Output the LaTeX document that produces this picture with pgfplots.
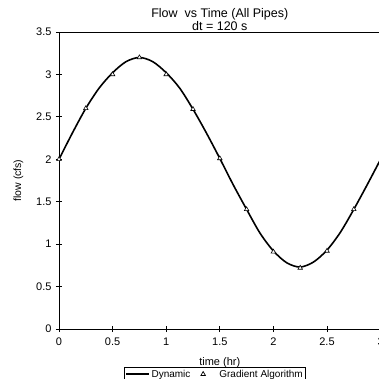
\documentclass[border=0pt]{standalone}
\usepackage{fontspec}
\setmainfont{Liberation Sans}
\usepackage{pgfplots}
\pgfplotsset{compat=1.18}
\begin{document}
\begin{tikzpicture}
\begin{axis}[
  scale only axis,
  width=321.6pt, height=297pt,
  at={(0,0)}, anchor=south west,
  xmin=0, xmax=3, ymin=0, ymax=3.5,
  xtick={0,0.5,1,1.5,2,2.5,3},
  ytick={0,0.5,1,1.5,2,2.5,3,3.5},
  xticklabels={0,0.5,1,1.5,2,2.5,3},
  yticklabels={0,0.5,1,1.5,2,2.5,3,3.5},
  xtick pos=left, ytick pos=left,
  tick align=center,
  major tick length=6pt,
  tick style={black, line width=0.8pt},
  axis line style={line width=0.9pt},
  ticklabel style={font=\fontsize{11}{12}\selectfont},
  /pgf/number format/assume math mode=true,
  xticklabel style={yshift=-2pt},
  yticklabel style={xshift=-1pt},
  title={Flow\ \ vs Time (All Pipes)\\dt = 120 s},
  title style={align=center, font=\fontsize{12.5}{10.5}\selectfont, at={(0.5,1)}, anchor=south, yshift=-8pt},
  xlabel={time (hr)},
  xlabel style={font=\fontsize{11}{12}\selectfont, yshift=-5pt},
  ylabel={flow (cfs)},
  ylabel style={font=\fontsize{10.5}{12}\selectfont, yshift=6pt},
  legend columns=2,
  legend style={at={(0.485,-0.128)}, anchor=north, draw=black, line width=0.5pt,
    font=\fontsize{10}{10}\selectfont, inner sep=0.5pt, row sep=0pt,
    /tikz/every even column/.append style={column sep=5pt}},
  legend cell align=left,
]
\addplot[black, line width=1.6pt, smooth, no marks,
  legend image code/.code={\draw[black, line width=1.6pt] (0cm,0cm) -- (0.8cm,0cm);}] coordinates {
  (0,2.00) (0.125,2.31) (0.25,2.60) (0.375,2.84) (0.5,3.02) (0.625,3.15)
  (0.75,3.20) (0.875,3.15) (1.0,3.02) (1.125,2.84) (1.25,2.59) (1.375,2.31)
  (1.5,2.01) (1.625,1.70) (1.75,1.41) (1.875,1.13) (2.0,0.92) (2.125,0.78)
  (2.25,0.73) (2.375,0.79) (2.5,0.93) (2.625,1.14) (2.75,1.41) (2.875,1.70)
  (3.0,2.00)};
\addlegendentry{Dynamic}
\addplot[only marks, mark=triangle*, mark size=2.6pt,
  mark options={fill=white, draw=black, line width=0.6pt},
  legend image code/.code={\path[draw=none, fill=none] (0cm,0cm) rectangle (0.7cm,0.01cm);
    \path[draw=none] plot[mark=triangle*, mark size=2.6pt, mark options={fill=white, draw=black, line width=0.7pt}] coordinates {(0.2cm,0cm)};}] coordinates {
  (0,2.0) (0.25,2.6) (0.5,3.0) (0.75,3.2) (1.0,3.0) (1.25,2.59)
  (1.5,2.01) (1.75,1.41) (2.0,0.91) (2.25,0.72) (2.5,0.92) (2.75,1.41)};
\addlegendentry{Gradient Algorithm}
\end{axis}
\pgfresetboundingbox
\useasboundingbox (-59pt,-50pt) rectangle (319pt,329pt);
\end{tikzpicture}
\end{document}
